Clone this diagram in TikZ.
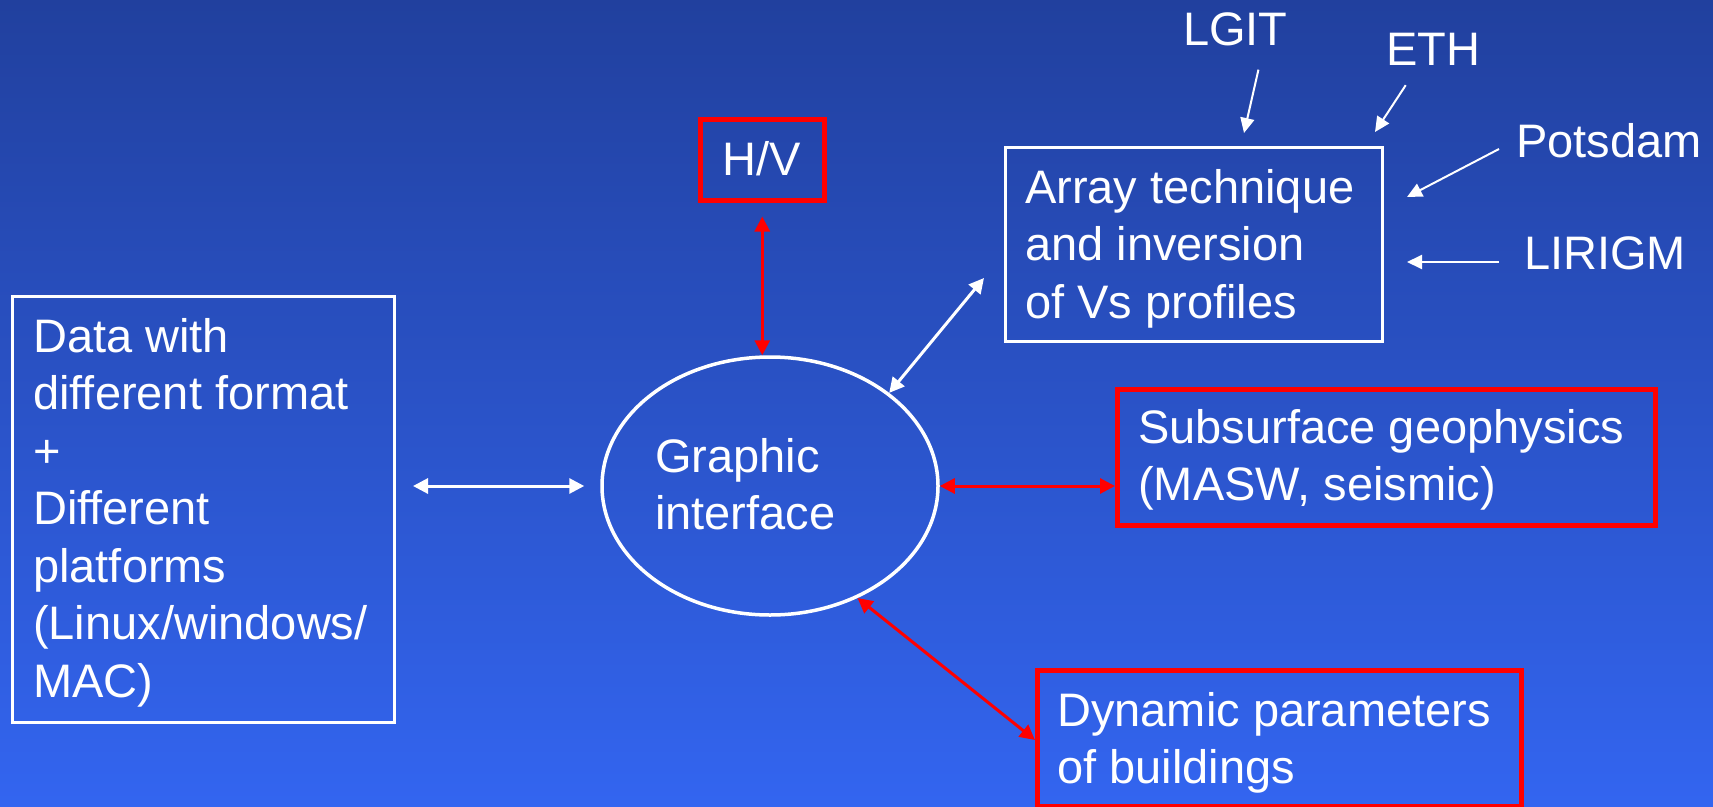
\documentclass[tikz,border=0pt]{standalone}
\usepackage{fontspec}
\setmainfont{Liberation Sans}
\usetikzlibrary{arrows.meta,shapes.geometric,calc}
\definecolor{bgtop}{RGB}{33,64,158}
\definecolor{bgbot}{RGB}{51,101,240}
\newcommand\lineblock[1]{\vtop{\baselineskip=57.5pt\lineskiplimit=-100pt\lineskip=0pt\halign{##\hfil\cr#1\crcr}}}
\begin{document}
\begin{tikzpicture}[x=1pt,y=-1pt,
  font=\fontsize{47}{57.5}\selectfont,
  wbox/.style={draw=white,line width=3pt,rectangle,inner sep=0pt,anchor=north west},
  rbox/.style={draw=red,line width=4.5pt,rectangle,inner sep=0pt,anchor=north west},
  txt/.style={inner sep=0pt,anchor=base west,text=white},
  warr/.style={draw=white,line width=3pt,arrows={Triangle[length=15pt,width=15pt]-Triangle[length=15pt,width=15pt]}},
  rarr/.style={draw=red,line width=3pt,arrows={Triangle[length=15pt,width=15pt]-Triangle[length=15pt,width=15pt]}},
  wsarr/.style={draw=white,line width=2pt,arrows={-Triangle[length=15pt,width=14pt]}}]
\useasboundingbox (0,0) rectangle (1713,806);
\shade[top color=bgtop,bottom color=bgbot] (0,0) rectangle (1713,806);

% boxes
\node[wbox,minimum width=382pt,minimum height=426pt] (data) at (11,295) {};
\node[wbox,minimum width=377pt,minimum height=194pt] (array) at (1004,146) {};
\node[rbox,minimum width=124pt,minimum height=81pt] (hv) at (698,117) {};
\node[rbox,minimum width=538pt,minimum height=136pt] (sub) at (1115,387) {};
\node[rbox,minimum width=484pt,minimum height=136pt] (dyn) at (1035,668) {};
\node[ellipse,draw=white,line width=3.5pt,minimum width=336pt,minimum height=258pt,inner sep=0pt] (gi) at (770,486) {};

% texts
\node[txt] (datatxt) at (33,352) {\lineblock{Data with\cr different format\cr +\cr Different\cr platforms\cr (Linux/windows/\cr MAC)}};
\node[txt] (arraytxt) at (1025,203) {\lineblock{Array technique\cr and inversion\cr of Vs profiles}};
\node[txt] (gitxt) at (655,472) {\lineblock{Graphic\cr interface}};
\node[txt] (hvtxt) at (722,175) {H/V};
\node[txt] (subtxt) at (1138,443) {\lineblock{Subsurface geophysics\cr (MASW, seismic)}};
\node[txt] (dyntxt) at (1057,726) {\lineblock{Dynamic parameters\cr of buildings}};
\node[txt] (lgit) at (1183,45) {LGIT};
\node[txt] (eth) at (1386,65) {ETH};
\node[txt] (potsdam) at (1516,157) {Potsdam};
\node[txt] (lirigm) at (1524,269) {LIRIGM};

% connectors
\draw[rarr] ($(hv.south)+(0,14)$) -- (hv.south |- gi.north);
\draw[warr] ($(data.east |- gi.west)+(17,0)$) -- ($(gi.west)+(-16,0)$);
\draw[rarr] (gi.east) -- (sub.west |- gi.east);
\draw[rarr] (gi.-52) -- ($(dyn.north west)+(0,72)$);
\draw[warr] (gi.38) -- ($(array.south west)+(-20,-65)$);
\draw[wsarr] ($(lgit.south)+(23,24)$) -- ($(array.north)+(50,-13)$);
\draw[wsarr] ($(eth.south)+(-27.5,20)$) -- ($(array.north east)+(-9,-14)$);
\draw[wsarr] ($(potsdam.base west)+(-17,-8)$) -- ($(array.north east)+(23,51)$);
\draw[wsarr] ($(lirigm.base west)+(-25,-7)$) -- ($(array.north east)+(23,116)$);
\end{tikzpicture}
\end{document}
